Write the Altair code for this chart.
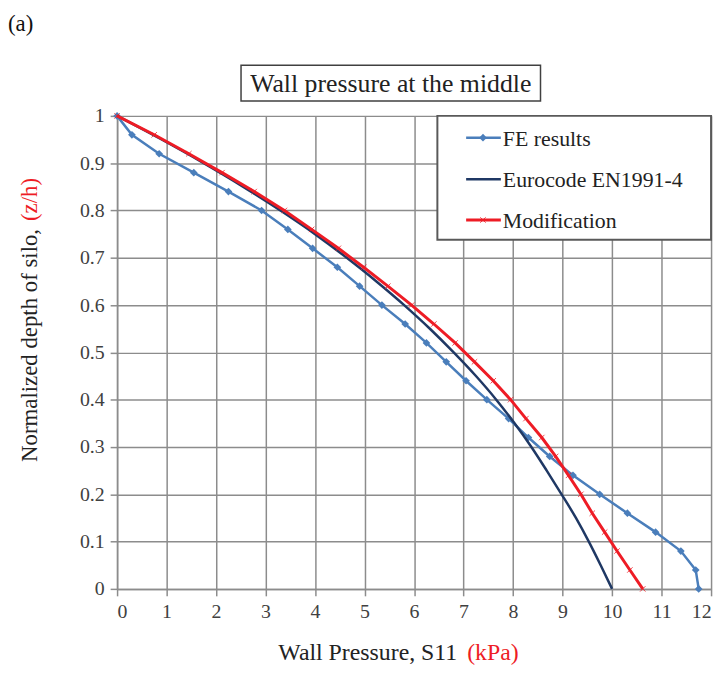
import altair as alt
import pandas as pd

# ---------------- data ----------------
fe_depth = [1.00, 0.96, 0.92, 0.88, 0.84, 0.80, 0.76, 0.72, 0.68, 0.64, 0.60, 0.56, 0.52,
            0.48, 0.44, 0.40, 0.36, 0.32, 0.28, 0.24, 0.20, 0.16, 0.12, 0.08, 0.04, 0.00]
fe_pressure = [0.0, 0.3, 0.85, 1.55, 2.25, 2.92, 3.45, 3.95, 4.45, 4.9, 5.35, 5.82, 6.25,
               6.65, 7.05, 7.47, 7.91, 8.31, 8.74, 9.21, 9.75, 10.31, 10.88, 11.39, 11.69, 11.75]

ec_depth = [1.00, 0.95, 0.90, 0.85, 0.80, 0.75, 0.70, 0.65, 0.60, 0.55, 0.50,
            0.45, 0.40, 0.35, 0.30, 0.25, 0.20, 0.15, 0.10, 0.05, 0.00]
ec_pressure = [0.0, 0.9, 1.75, 2.55, 3.3, 4.0, 4.64, 5.24, 5.8, 6.32, 6.8,
               7.25, 7.66, 8.03, 8.37, 8.68, 8.98, 9.27, 9.53, 9.77, 10.0]

mod_depth = [1.00, 0.96, 0.92, 0.88, 0.84, 0.80, 0.76, 0.72, 0.68, 0.64, 0.60, 0.56, 0.52,
             0.48, 0.44, 0.40, 0.36, 0.32, 0.28, 0.24, 0.20, 0.16, 0.12, 0.08, 0.04, 0.00]
mod_pressure = [0.0, 0.75, 1.45, 2.12, 2.77, 3.38, 3.93, 4.47, 4.98, 5.47, 5.95, 6.4, 6.83,
                7.22, 7.6, 7.95, 8.26, 8.58, 8.86, 9.12, 9.37, 9.6, 9.85, 10.1, 10.36, 10.62]

series_names = ["FE results", "Eurocode EN1991-4", "Modification"]
x_ticks = list(range(0, 13))
y_ticks = [0, 0.1, 0.2, 0.3, 0.4, 0.5, 0.6, 0.7, 0.8, 0.9, 1.0]
chart_title = "Wall pressure at the middle"
x_title_main = "Wall Pressure, S11"
x_title_unit = "(kPa)"
y_title_main = "Normalized depth of silo,"
y_title_unit = "(z/h)"
panel_label = "(a)"

FONT = "Liberation Serif"
C_FE = "#4a7ebb"
C_EC = "#1f3864"
C_MOD = "#ee1c25"
X_MARK = "M-1,-1L1,1M1,-1L-1,1"

fe_df = pd.DataFrame({"p": fe_pressure, "z": fe_depth, "i": range(len(fe_depth))})
ec_df = pd.DataFrame({"p": ec_pressure, "z": ec_depth, "i": range(len(ec_depth))})
mod_df = pd.DataFrame({"p": mod_pressure, "z": mod_depth, "i": range(len(mod_depth))})

W, H = 599, 477

x_enc = alt.X("p:Q", scale=alt.Scale(domain=[0, 12], nice=False),
              axis=alt.Axis(values=x_ticks, title=None, grid=True))
y_enc = alt.Y("z:Q", scale=alt.Scale(domain=[0, 1], nice=False),
              axis=alt.Axis(values=y_ticks, title=None, grid=True, format="~g"))


def line_layer(df, color, width):
    return alt.Chart(df).mark_line(color=color, strokeWidth=width, interpolate="monotone").encode(
        x=x_enc, y=y_enc, order="i:Q")


fe_line = alt.Chart(fe_df).mark_line(color=C_FE, strokeWidth=2.5).encode(x=x_enc, y=y_enc, order="i:Q")
fe_pts = alt.Chart(fe_df).mark_point(shape="diamond", filled=True, color=C_FE, size=60, opacity=1).encode(
    x=x_enc, y=y_enc)
ec_line = line_layer(ec_df, C_EC, 2.5)
mod_line = alt.Chart(mod_df).mark_line(color=C_MOD, strokeWidth=3).encode(x=x_enc, y=y_enc, order="i:Q")
mod_pts = alt.Chart(mod_df).mark_point(shape=X_MARK, filled=False, color=C_MOD, size=30,
                                       strokeWidth=1, opacity=0.8).encode(x=x_enc, y=y_enc)

one = pd.DataFrame({"k": [0]})

# title box
title_box = alt.Chart(one).mark_rect(fill="white", stroke="#404040", strokeWidth=1.5).encode(
    x=alt.value(125), x2=alt.value(427), y=alt.value(-51), y2=alt.value(-15))
title_txt = alt.Chart(pd.DataFrame({"t": [chart_title]})).mark_text(
    font=FONT, fontSize=26, color="#222222", align="center", baseline="middle").encode(
    x=alt.value(276), y=alt.value(-32), text="t:N")

# legend
leg_box = alt.Chart(one).mark_rect(fill="white", stroke="#595959", strokeWidth=2).encode(
    x=alt.value(323), x2=alt.value(599), y=alt.value(0), y2=alt.value(125))
leg_layers = [leg_box]
leg_y = [22, 64, 105]
leg_colors = [C_FE, C_EC, C_MOD]
leg_widths = [2.5, 2.5, 3]
for name, yy, col, sw in zip(series_names, leg_y, leg_colors, leg_widths):
    leg_layers.append(alt.Chart(one).mark_rule(color=col, strokeWidth=sw).encode(
        x=alt.value(352), x2=alt.value(387), y=alt.value(yy)))
    leg_layers.append(alt.Chart(pd.DataFrame({"t": [name]})).mark_text(
        font=FONT, fontSize=22, color="#222222", align="left", baseline="middle").encode(
        x=alt.value(389), y=alt.value(yy + 1), text="t:N"))
leg_layers.append(alt.Chart(one).mark_point(shape="diamond", filled=True, color=C_FE, size=60, opacity=1).encode(
    x=alt.value(369), y=alt.value(leg_y[0])))
leg_layers.append(alt.Chart(one).mark_point(shape=X_MARK, filled=False, color=C_MOD, size=30,
                                            strokeWidth=1, opacity=0.8).encode(
    x=alt.value(369), y=alt.value(leg_y[2])))

# axis titles (two colours each)
xt1 = alt.Chart(pd.DataFrame({"t": [x_title_main]})).mark_text(
    font=FONT, fontSize=24, color="#222222", align="right", baseline="middle").encode(
    x=alt.value(343), y=alt.value(H + 65), text="t:N")
xt2 = alt.Chart(pd.DataFrame({"t": [x_title_unit]})).mark_text(
    font=FONT, fontSize=24, color=C_MOD, align="left", baseline="middle").encode(
    x=alt.value(353), y=alt.value(H + 65), text="t:N")
yt1 = alt.Chart(pd.DataFrame({"t": [y_title_main]})).mark_text(
    font=FONT, fontSize=23, color="#222222", align="right", baseline="middle", angle=270).encode(
    x=alt.value(-88), y=alt.value(114), text="t:N")
yt2 = alt.Chart(pd.DataFrame({"t": [y_title_unit]})).mark_text(
    font=FONT, fontSize=23, color=C_MOD, align="left", baseline="middle", angle=270).encode(
    x=alt.value(-88), y=alt.value(106), text="t:N")
panel = alt.Chart(pd.DataFrame({"t": [panel_label]})).mark_text(
    font=FONT, fontSize=23, color="#111111", align="left", baseline="middle").encode(
    x=alt.value(-110), y=alt.value(-93), text="t:N")

chart = alt.layer(
    fe_line, fe_pts, ec_line, mod_line, mod_pts,
    title_box, title_txt, *leg_layers, xt1, xt2, yt1, yt2, panel
).properties(
    width=W, height=H,
    autosize=alt.AutoSizeParams(type="none"),
    padding={"left": 110, "top": 106, "right": 8, "bottom": 78},
).configure_view(stroke=None).configure_axis(
    labelFont=FONT, labelFontSize=20, labelColor="#404040",
    gridColor="#8c8c8c", gridWidth=1.5, gridOpacity=1,
    domainColor="#8c8c8c", domainWidth=1.5,
    tickColor="#8c8c8c", tickSize=7, tickWidth=1.5,
    labelPadding=6,
)

chart.save("out.html", embed_options={"renderer": "svg", "actions": False})
